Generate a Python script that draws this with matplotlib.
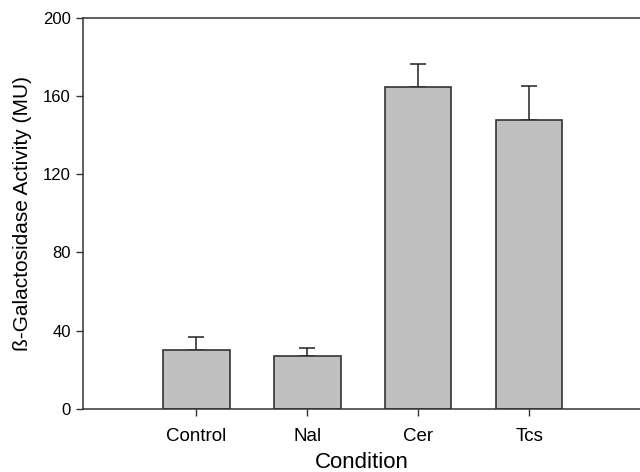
import numpy as np
import matplotlib.pyplot as plt

conditions = ['Control', 'Nal', 'Cer', 'Tcs']
activity = [30.2, 27.1, 164.5, 147.7]
sem = [6.6, 4.1, 12.1, 17.5]

plt.rcParams['font.family'] = ['Liberation Sans', 'DejaVu Sans']

fig = plt.figure(figsize=(6.4, 4.72), dpi=100)
ax = fig.add_axes([0.13, 0.134, 0.87, 0.828])

x = np.arange(len(conditions))
ax.bar(x, activity, width=0.6, color='#c0c0c0', edgecolor='#333333', linewidth=1.2, zorder=2)
ax.errorbar(x, activity, yerr=[np.zeros(len(sem)), sem], fmt='none', ecolor='#222222',
            elinewidth=1.1, capsize=6, capthick=1.1, zorder=1)

ax.set_xlim(-1.02, 4.0)
ax.set_ylim(0, 200)
ax.set_yticks([0, 40, 80, 120, 160, 200])
ax.set_xticks(x)
ax.set_xticklabels(conditions)
ax.spines['right'].set_visible(False)
for s in ['left', 'top', 'bottom']:
    ax.spines[s].set_color('#333333')
    ax.spines[s].set_linewidth(1.1)
ax.tick_params(axis='both', direction='out', length=5, width=1, colors='#333333',
               labelcolor='black')
ax.tick_params(axis='y', labelsize=12, pad=4)
ax.tick_params(axis='x', labelsize=13.5, pad=9)
ax.set_xlabel('Condition', fontsize=16, labelpad=5)
ax.set_ylabel('ß-Galactosidase Activity (MU)', fontsize=15, labelpad=8)

plt.savefig('out.png', dpi=100)
